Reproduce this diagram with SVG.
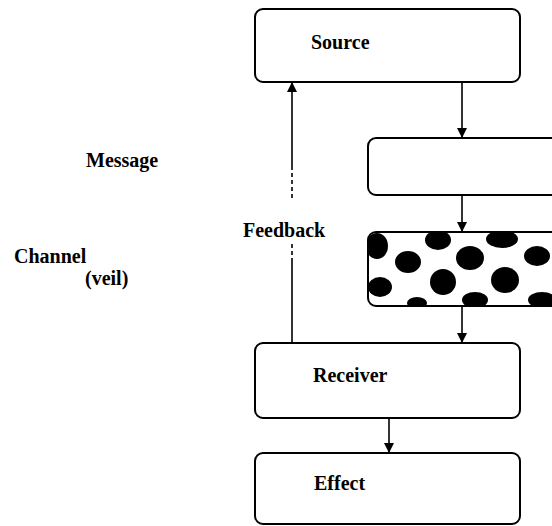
<svg xmlns="http://www.w3.org/2000/svg" width="552" height="526" viewBox="0 0 552 526">
<style>
.box{fill:#fff;stroke:#000;stroke-width:2}
.t{font-family:"Liberation Serif","Times New Roman",serif;font-weight:bold;font-size:20px;fill:#000}
.ln{stroke:#000;stroke-width:1.6;fill:none}
.dl{stroke:#000;stroke-width:1.6;fill:none;stroke-dasharray:4 3}
.blob{fill:#000}
</style>
<defs>
<marker id="ah" markerWidth="10" markerHeight="10" refX="9" refY="5" orient="auto" markerUnits="userSpaceOnUse">
<path d="M0,0 L10,5 L0,10 Z" fill="#000"/>
</marker>
<clipPath id="chClip"><rect x="368" y="232" width="200" height="74" rx="8"/></clipPath>
</defs>
<rect width="552" height="526" fill="#fff"/>
<g id="labels">
<text class="t" x="86" y="167">Message</text>
<text class="t" x="14" y="263">Channel</text>
<text class="t" x="85" y="285">(veil)</text>
<text class="t" x="243" y="237">Feedback</text>
</g>
<g id="source"><rect class="box" x="255" y="9" width="265" height="73" rx="8"/><text class="t" x="311" y="49">Source</text></g>
<g id="message"><rect class="box" x="368" y="138" width="200" height="57" rx="8"/></g>
<g id="channel">
<rect class="box" x="368" y="232" width="200" height="74" rx="8"/>
<g clip-path="url(#chClip)">
<ellipse class="blob" cx="377" cy="246" rx="11" ry="13"/>
<ellipse class="blob" cx="438" cy="240" rx="13" ry="10"/>
<ellipse class="blob" cx="502" cy="239" rx="16" ry="9"/>
<ellipse class="blob" cx="408" cy="262" rx="13" ry="11"/>
<ellipse class="blob" cx="470" cy="258" rx="14" ry="12"/>
<ellipse class="blob" cx="537" cy="256" rx="13" ry="10"/>
<ellipse class="blob" cx="443" cy="282" rx="13" ry="13"/>
<ellipse class="blob" cx="505" cy="280" rx="14" ry="13"/>
<ellipse class="blob" cx="380" cy="287" rx="12" ry="10"/>
<ellipse class="blob" cx="475" cy="300" rx="13" ry="8"/>
<ellipse class="blob" cx="417" cy="303" rx="10" ry="6"/>
<ellipse class="blob" cx="542" cy="300" rx="14" ry="8"/>
</g>
</g>
<g id="receiver"><rect class="box" x="255" y="343" width="265" height="75" rx="8"/><text class="t" x="313" y="382">Receiver</text></g>
<g id="effect"><rect class="box" x="255" y="453" width="265" height="71" rx="8"/><text class="t" x="314" y="490">Effect</text></g>
<g id="connectors">
<line class="ln" x1="462" y1="82" x2="462" y2="137" marker-end="url(#ah)"/>
<line class="ln" x1="462" y1="195" x2="462" y2="231" marker-end="url(#ah)"/>
<line class="ln" x1="462" y1="306" x2="462" y2="342" marker-end="url(#ah)"/>
<line class="ln" x1="389" y1="418" x2="389" y2="452" marker-end="url(#ah)"/>
<line class="ln" x1="292" y1="343" x2="292" y2="262"/>
<line class="dl" x1="292" y1="262" x2="292" y2="243"/>
<line class="dl" x1="292" y1="198" x2="292" y2="168"/>
<line class="ln" x1="292" y1="168" x2="292" y2="83" marker-end="url(#ah)"/>
</g>
</svg>
